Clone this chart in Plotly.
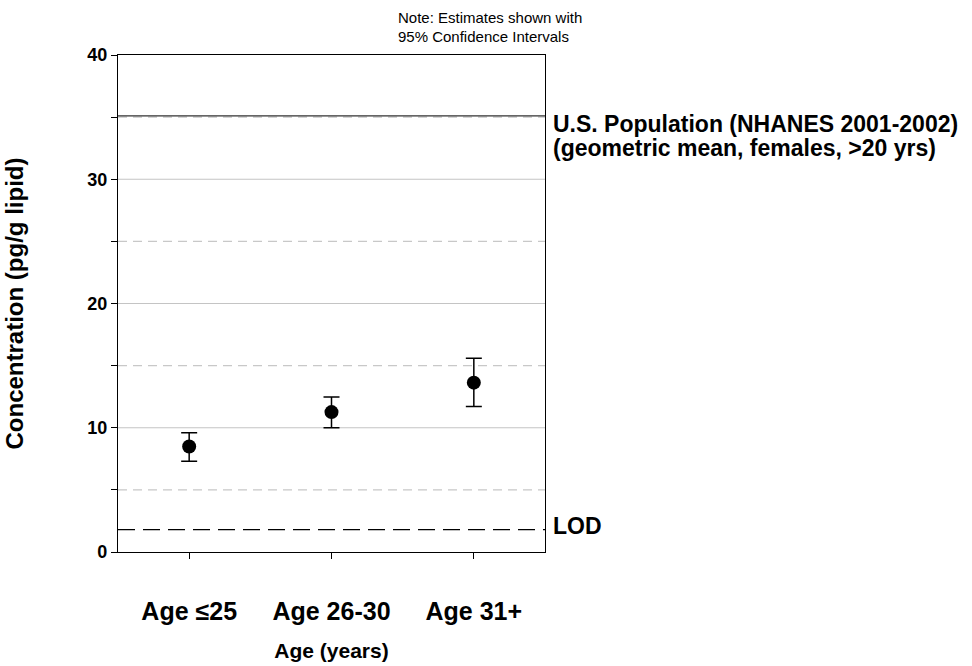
import plotly.graph_objects as go

# Geometric mean concentrations by age group with 95% confidence limits
age_groups = ["Age \u226425", "Age 26-30", "Age 31+"]
estimates = [8.49, 11.26, 13.63]
ci_upper = [9.60, 12.47, 15.59]
ci_lower = [7.31, 10.00, 11.72]

# Reference levels
us_population_mean = 35.1
lod_value = 1.8

# Axis layout values
y_ticks = [0, 5, 10, 15, 20, 25, 30, 35, 40]
y_labels = ["0", "", "10", "", "20", "", "30", "", "40"]
solid_grid = [10, 20, 30]
dashed_grid = [5, 15, 25, 35]

FONT = "Arial, Liberation Sans, sans-serif"
x_idx = list(range(len(age_groups)))

fig = go.Figure()
fig.add_trace(go.Scatter(
    x=x_idx,
    y=estimates,
    mode="markers",
    marker=dict(color="black", size=14),
    error_y=dict(
        type="data",
        symmetric=False,
        array=[u - e for u, e in zip(ci_upper, estimates)],
        arrayminus=[e - l for e, l in zip(estimates, ci_lower)],
        color="black",
        thickness=1.5,
        width=8,
    ),
    showlegend=False,
))

shapes = []
for g in solid_grid:
    shapes.append(dict(type="line", xref="paper", x0=0, x1=1, yref="y", y0=g, y1=g,
                       line=dict(color="#c4c4c4", width=1.2), layer="below"))
for g in dashed_grid:
    shapes.append(dict(type="line", xref="paper", x0=0, x1=1, yref="y", y0=g, y1=g,
                       line=dict(color="#c8c8c8", width=1.2, dash="9px,6px"), layer="below"))
# U.S. population reference line
shapes.append(dict(type="line", xref="paper", x0=0, x1=1, yref="y",
                   y0=us_population_mean, y1=us_population_mean,
                   line=dict(color="#333333", width=1.2)))
# Limit of detection
shapes.append(dict(type="line", xref="paper", x0=0, x1=1, yref="y",
                   y0=lod_value, y1=lod_value,
                   line=dict(color="black", width=1.2, dash="17px,8px")))

label_font = dict(family=FONT, size=23, color="black", weight="bold")
note_font = dict(family=FONT, size=15, color="black")

annotations = [
    dict(xref="paper", yref="y", x=1, y=us_population_mean, xanchor="left", yanchor="middle",
         xshift=6, yshift=-8, showarrow=False,
         text="U.S. Population (NHANES 2001-2002)", font=label_font),
    dict(xref="paper", yref="y", x=1, y=us_population_mean, xanchor="left", yanchor="middle",
         xshift=6, yshift=-32, showarrow=False,
         text="(geometric mean, females, >20 yrs)", font=label_font),
    dict(xref="paper", yref="y", x=1, y=lod_value, xanchor="left", yanchor="middle",
         xshift=6, yshift=4, showarrow=False, text="LOD", font=label_font),
    dict(xref="paper", yref="paper", x=0.651, y=1, xanchor="left", yanchor="middle",
         yshift=38, showarrow=False, text="Note: Estimates shown with", font=note_font),
    dict(xref="paper", yref="paper", x=0.651, y=1, xanchor="left", yanchor="middle",
         yshift=19, showarrow=False, text="95% Confidence Intervals", font=note_font),
]

fig.update_layout(
    width=972,
    height=666,
    margin=dict(l=118, r=427, t=55, b=114),
    paper_bgcolor="white",
    plot_bgcolor="white",
    shapes=shapes,
    annotations=annotations,
    font=dict(family=FONT, color="black"),
    xaxis=dict(
        range=[-0.5, 2.5],
        automargin=False,
        tickmode="array",
        tickvals=x_idx,
        ticktext=age_groups,
        ticks="outside",
        ticklen=6,
        tickcolor="black",
        ticklabelstandoff=31,
        tickfont=dict(family=FONT, size=25, color="black", weight="bold"),
        showgrid=False,
        zeroline=False,
        showline=True,
        linecolor="black",
        linewidth=1.2,
        mirror=True,
        title=dict(text="Age (years)", standoff=19,
                   font=dict(family=FONT, size=21, color="black", weight="bold")),
    ),
    yaxis=dict(
        range=[0, 40],
        automargin=False,
        tickmode="array",
        tickvals=y_ticks,
        ticktext=y_labels,
        ticks="outside",
        ticklen=6,
        tickcolor="black",
        tickfont=dict(family=FONT, size=18, color="black", weight="bold"),
        showgrid=False,
        zeroline=False,
        showline=True,
        linecolor="black",
        linewidth=1.2,
        mirror=True,
        title=dict(text="Concentration (pg/g lipid)", standoff=56,
                   font=dict(family=FONT, size=24, color="black", weight="bold")),
    ),
)

fig.write_html("out.html")
